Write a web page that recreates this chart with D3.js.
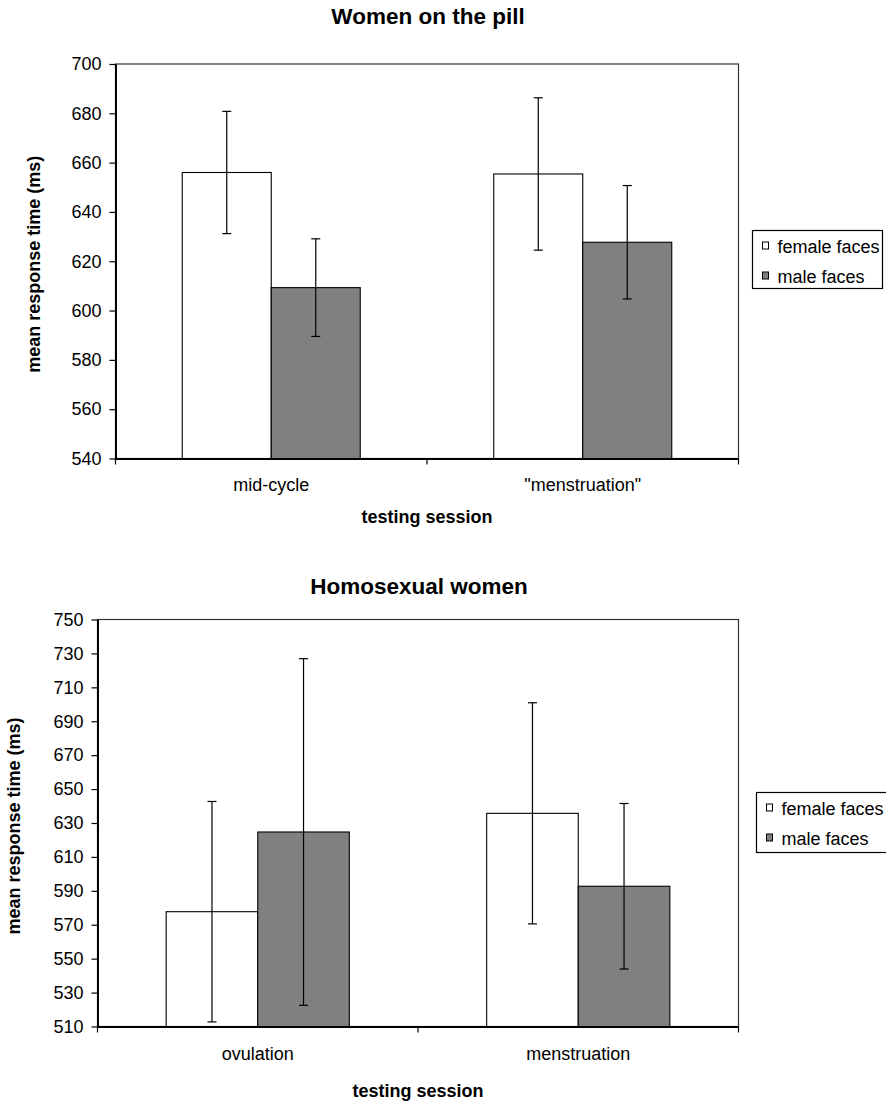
<!DOCTYPE html>
<html>
<head>
<meta charset="utf-8">
<script src="https://cdn.jsdelivr.net/npm/d3@7"></script>
<style>
  html, body { margin: 0; padding: 0; background: #fff; }
  svg { display: block; font-family: "Liberation Sans", Arial, Helvetica, sans-serif; }
</style>
</head>
<body>
<svg id="chart" width="886" height="1101"></svg>
<script>
// Series names shared by both panels
const seriesNames = ["female faces", "male faces"];
const seriesFills = ["#ffffff", "#808080"];

// Panel 1: women on the pill
const pillSessions = ["mid-cycle", "\"menstruation\""];
const pillFemale = [656, 655.4];
const pillFemaleErr = [24.8, 30.9];
const pillMale = [609.3, 627.7];
const pillMaleErr = [19.8, 23.0];
const pillTicks = [540, 560, 580, 600, 620, 640, 660, 680, 700];

// Panel 2: homosexual women
const homoSessions = ["ovulation", "menstruation"];
const homoFemale = [577.7, 635.7];
const homoFemaleErr = [65.0, 65.2];
const homoMale = [624.7, 592.7];
const homoMaleErr = [102.2, 48.8];
const homoTicks = [510, 530, 550, 570, 590, 610, 630, 650, 670, 690, 710, 730, 750];

const svg = d3.select("#chart");
svg.append("rect").attr("width", 886).attr("height", 1101).attr("fill", "#fff");

function drawPanel(opt) {
  const { title, cats, means, errs, ticks, box, titleY, ytitleX, catY, xtitleY, legend } = opt;
  const g = svg.append("g");

  const x0 = d3.scaleBand().domain(cats).range([box.left, box.right]).padding(0);
  // gap width of 150% around each pair of bars
  const x1 = d3.scaleBand().domain(seriesNames).range([0, x0.bandwidth()])
    .paddingInner(0).paddingOuter(0.75);
  const y = d3.scaleLinear().domain([ticks[0], ticks[ticks.length - 1]]).range([box.bottom, box.top]);

  // plot frame
  g.append("rect")
    .attr("x", box.left).attr("y", box.top)
    .attr("width", box.right - box.left).attr("height", box.bottom - box.top)
    .attr("fill", "none").attr("stroke", "#333").attr("stroke-width", 1.2);

  // bars
  const rows = [];
  cats.forEach((c, i) => {
    seriesNames.forEach((s, j) => {
      rows.push({ cat: c, series: s, j, value: means[j][i], err: errs[j][i] });
    });
  });

  g.selectAll("rect.bar").data(rows).join("rect")
    .attr("class", "bar")
    .attr("x", d => x0(d.cat) + x1(d.series))
    .attr("y", d => y(d.value))
    .attr("width", x1.bandwidth())
    .attr("height", d => y(ticks[0]) - y(d.value))
    .attr("fill", d => seriesFills[d.j])
    .attr("stroke", "#000").attr("stroke-width", 1.1);

  // error bars
  const eb = g.selectAll("g.err").data(rows).join("g").attr("class", "err")
    .attr("stroke", "#000").attr("stroke-width", 1.2);
  const cx = d => x0(d.cat) + x1(d.series) + x1.bandwidth() / 2;
  eb.append("line")
    .attr("x1", cx).attr("x2", cx)
    .attr("y1", d => y(d.value + d.err)).attr("y2", d => y(d.value - d.err));
  eb.append("line")
    .attr("x1", d => cx(d) - 4.5).attr("x2", d => cx(d) + 4.5)
    .attr("y1", d => y(d.value + d.err)).attr("y2", d => y(d.value + d.err));
  eb.append("line")
    .attr("x1", d => cx(d) - 4.5).attr("x2", d => cx(d) + 4.5)
    .attr("y1", d => y(d.value - d.err)).attr("y2", d => y(d.value - d.err));

  // y axis
  const ya = g.append("g").attr("transform", `translate(${box.left},0)`)
    .call(d3.axisLeft(y).tickValues(ticks).tickSize(6).tickPadding(8).tickSizeOuter(0));
  ya.select(".domain").attr("stroke", "#000").attr("stroke-width", 2);
  ya.selectAll(".tick line").attr("stroke", "#000").attr("stroke-width", 1.2);
  ya.selectAll(".tick text").attr("font-size", 18).attr("fill", "#000")
    .attr("font-family", "Liberation Sans, Arial, sans-serif");

  // x axis: category labels, then tick marks on band boundaries
  const xa = g.append("g").attr("transform", `translate(0,${box.bottom})`)
    .call(d3.axisBottom(x0).tickSize(0).tickPadding(catY - box.bottom - 14));
  xa.select(".domain").attr("stroke", "#000").attr("stroke-width", 2);
  xa.selectAll(".tick text").attr("font-size", 18).attr("fill", "#000")
    .attr("font-family", "Liberation Sans, Arial, sans-serif");
  const bounds = cats.map(c => x0(c)).concat([x0.range()[1]]);
  g.selectAll("line.xtick").data(bounds).join("line")
    .attr("class", "xtick")
    .attr("x1", d => d).attr("x2", d => d)
    .attr("y1", box.bottom).attr("y2", box.bottom + 6)
    .attr("stroke", "#000").attr("stroke-width", 1.2);

  // titles
  const cxPlot = (box.left + box.right) / 2;
  g.append("text").attr("x", cxPlot + 1).attr("y", titleY)
    .attr("text-anchor", "middle").attr("font-size", 22.5).attr("font-weight", "bold")
    .text(title);
  g.append("text").attr("x", cxPlot).attr("y", xtitleY)
    .attr("text-anchor", "middle").attr("font-size", 18).attr("font-weight", "bold")
    .text("testing session");
  g.append("text")
    .attr("transform", `translate(${ytitleX},${(box.top + box.bottom) / 2 + 3}) rotate(-90)`)
    .attr("text-anchor", "middle").attr("font-size", 18).attr("font-weight", "bold")
    .text("mean response time (ms)");

  // legend
  const lg = g.append("g");
  lg.append("rect").attr("x", legend.x).attr("y", legend.y)
    .attr("width", legend.w).attr("height", legend.h)
    .attr("fill", "#fff").attr("stroke", "#000").attr("stroke-width", 1.2);
  seriesNames.forEach((s, j) => {
    const by = legend.y + 22.5 + j * 30;
    lg.append("rect").attr("x", legend.x + 10).attr("y", by - 11)
      .attr("width", 6).attr("height", 7)
      .attr("fill", seriesFills[j]).attr("stroke", "#000").attr("stroke-width", 1);
    lg.append("text").attr("x", legend.x + 25).attr("y", by)
      .attr("font-size", 18).text(s);
  });
}

drawPanel({
  title: "Women on the pill",
  cats: pillSessions,
  means: [pillFemale, pillMale],
  errs: [pillFemaleErr, pillMaleErr],
  ticks: pillTicks,
  box: { left: 115.5, right: 738.5, top: 64, bottom: 458.5 },
  titleY: 23.5,
  ytitleX: 40,
  catY: 492.5,
  xtitleY: 523,
  legend: { x: 752.5, y: 230.5, w: 130, h: 58 }
});

drawPanel({
  title: "Homosexual women",
  cats: homoSessions,
  means: [homoFemale, homoMale],
  errs: [homoFemaleErr, homoMaleErr],
  ticks: homoTicks,
  box: { left: 97.5, right: 738.5, top: 619.5, bottom: 1026.5 },
  titleY: 593.5,
  ytitleX: 20,
  catY: 1061.5,
  xtitleY: 1096.5,
  legend: { x: 756.5, y: 792.5, w: 140, h: 60 }
});
</script>
</body>
</html>
